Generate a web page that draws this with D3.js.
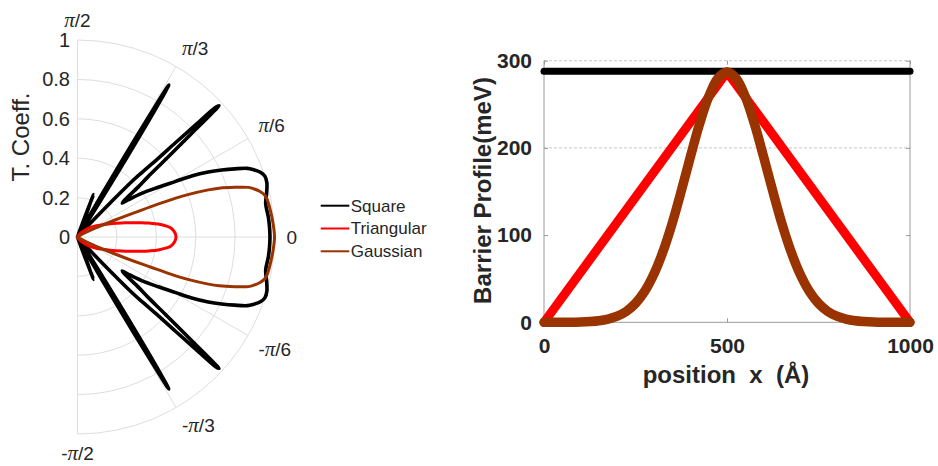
<!DOCTYPE html>
<html>
<head>
<meta charset="utf-8">
<script src="https://cdn.jsdelivr.net/npm/d3@7"></script>
<style>
  html, body { margin: 0; padding: 0; background: #fff; }
  svg { display: block; }
  text { font-family: "Liberation Sans", Arial, sans-serif; }
</style>
</head>
<body>
<svg id="chart" width="938" height="466"></svg>
<script>
// ---- Transmission vs incidence angle (degrees, 0..90; curve is symmetric in angle) ----
const squareTheta = [0, 3, 6, 10, 13, 16, 18, 19.5, 21, 22, 23.4, 24.9, 26.4, 28.1, 29.6, 31.6, 34.2, 36.2, 37.2, 38.2, 39.5, 40.5, 41.2, 41.7, 42.2, 42.6, 42.9, 43.2, 43.5, 43.9, 44.3, 45.0, 45.6, 46.2, 46.8, 47.5, 49, 52, 55, 56.5, 57.5, 58.2, 58.7, 59.0, 59.3, 59.7, 60.2, 60.8, 62, 65, 67.5, 68.5, 69.3, 69.8, 70.5, 72, 80, 90];
const squareT     = [0.977, 0.976, 0.974, 0.970, 0.985, 1.0, 1.0, 0.985, 0.955, 0.93, 0.871, 0.807, 0.741, 0.657, 0.569, 0.482, 0.394, 0.32, 0.285, 0.31, 0.40, 0.47, 0.57, 0.66, 0.78, 0.92, 0.98, 0.96, 0.83, 0.69, 0.57, 0.47, 0.40, 0.25, 0.12, 0.04, 0.01, 0, 0.01, 0.05, 0.2, 0.5, 0.8, 0.9, 0.75, 0.5, 0.25, 0.1, 0.02, 0.01, 0.03, 0.1, 0.23, 0.12, 0.03, 0, 0, 0];

const triTheta = [0, 2.5, 5.3, 7, 9.1, 11, 12.6, 14.5, 16.8, 19.5, 22.9, 27, 31, 36, 42, 50, 60, 70, 90];
const triT     = [0.50, 0.495, 0.478, 0.455, 0.415, 0.37, 0.334, 0.29, 0.252, 0.21, 0.17, 0.135, 0.11, 0.085, 0.055, 0.025, 0.008, 0, 0];

const gaussTheta = [0, 4, 8, 11, 12.5, 14, 15.2, 16.2, 17.5, 19, 19.8, 21, 21.6, 22.8, 24.4, 26.4, 28.5, 31, 35, 40, 90];
const gaussT     = [1.0, 0.995, 0.988, 0.982, 0.975, 0.955, 0.93, 0.903, 0.838, 0.76, 0.706, 0.6, 0.532, 0.353, 0.209, 0.10, 0.045, 0.015, 0.003, 0, 0];

const seriesNames  = ["Square", "Triangular", "Gaussian"];
const seriesColors = ["#000000", "#ff0000", "#993300"];

const rTicks = [0, 0.2, 0.4, 0.6, 0.8, 1];
const rTickLabels = ["0", "0.2", "0.4", "0.6", "0.8", "1"];
const thetaTicks = [90, 60, 30, 0, -30, -60, -90];
const thetaTickLabels = ["π/2", "π/3", "π/6", "0", "-π/6", "-π/3", "-π/2"];

// ---- Barrier profiles: position (Å) vs height (meV) ----
const squareX = [0, 1000];
const squareV = [288, 288];
const triX = [0, 500, 1000];
const triV = [0, 287, 0];
const gaussX = [0, 25, 50, 75, 100, 125, 150, 175, 200, 225, 250, 275, 300, 325, 350, 375, 400, 425, 450, 475, 500,
                525, 550, 575, 600, 625, 650, 675, 700, 725, 750, 775, 800, 825, 850, 875, 900, 925, 950, 975, 1000];
const gaussV = [0, 0, 0, 0.1, 0.4, 0.9, 1.8, 3.7, 7.0, 12.6, 21.7, 35.4, 55.0, 81.0, 113.2, 150.5, 189.9, 227.5, 258.8, 279.7, 287,
                279.7, 258.8, 227.5, 189.9, 150.5, 113.2, 81.0, 55.0, 35.4, 21.7, 12.6, 7.0, 3.7, 1.8, 0.9, 0.4, 0.1, 0, 0, 0];
const xTicks = [0, 500, 1000];
const yTicks = [0, 100, 200, 300];
const yGrid = [200, 300];

const svg = d3.select("#chart");
const textColor = "#262626";

// ================= Polar plot =================
const cx = 77.5, cy = 237, R = 197;
const r = d3.scaleLinear().domain([0, 1]).range([0, R]);
const toRad = d => d * Math.PI / 180;
const polar = svg.append("g").attr("transform", `translate(${cx},${cy})`);

// rings
rTicks.filter(v => v > 0).forEach(v => {
  const p = d3.path();
  p.arc(0, 0, r(v), -Math.PI / 2, Math.PI / 2);
  polar.append("path").attr("d", p.toString())
    .attr("fill", "none").attr("stroke", "#dedede").attr("stroke-width", 1);
});
// spokes
thetaTicks.forEach(t => {
  polar.append("line")
    .attr("x1", 0).attr("y1", 0)
    .attr("x2", r(1) * Math.cos(toRad(t))).attr("y2", -r(1) * Math.sin(toRad(t)))
    .attr("stroke", "#dedede").attr("stroke-width", 1);
});

// radial tick labels
polar.selectAll("text.rtick").data(rTicks).join("text")
  .attr("class", "rtick")
  .attr("x", -7.5).attr("y", d => -r(d)).attr("dy", "0.35em")
  .attr("text-anchor", "end")
  .attr("font-size", 20).attr("fill", textColor)
  .text((d, i) => rTickLabels[i]);

// angle labels (π drawn in a serif face)
thetaTicks.forEach((t, i) => {
  const d = R + 12;
  const ax = d * Math.cos(toRad(t)), ay = -d * Math.sin(toRad(t));
  const txt = polar.append("text")
    .attr("x", ax).attr("y", ay)
    .attr("font-size", 19).attr("fill", textColor)
    .attr("text-anchor", Math.abs(t) === 90 ? "middle" : "start");
  if (t === 0) txt.attr("dy", "0.35em");
  else if (t < 0) txt.attr("dy", "0.75em");
  else txt.attr("dy", "-0.05em");
  thetaTickLabels[i].split(/(π)/).filter(s => s.length).forEach(s => {
    const ts = txt.append("tspan").text(s);
    if (s === "π") ts.attr("font-family", "'Liberation Serif', 'DejaVu Serif', serif")
      .attr("font-style", "italic").attr("font-size", 21);
  });
});

// radial axis title
svg.append("text")
  .attr("transform", "translate(28.5,137) rotate(-90)")
  .attr("text-anchor", "middle")
  .attr("font-size", 24).attr("fill", textColor)
  .text("T. Coeff.");

// curves, mirrored to negative angles
function mirrored(thetas, vals) {
  const pos = thetas.map((t, i) => ({ t, v: vals[i] }));
  const neg = pos.filter(p => p.t > 0).map(p => ({ t: -p.t, v: p.v })).reverse();
  return neg.concat(pos);
}
const radial = d3.lineRadial()
  .angle(d => toRad(90 - d.t))
  .radius(d => r(d.v))
  .curve(d3.curveCatmullRom.alpha(0.5));

const polarSeries = [
  { pts: mirrored(squareTheta, squareT), color: seriesColors[0], w: 3.6 },
  { pts: mirrored(triTheta, triT), color: seriesColors[1], w: 3.0 },
  { pts: mirrored(gaussTheta, gaussT), color: seriesColors[2], w: 3.0 }
];
polarSeries.forEach(s => {
  polar.append("path").attr("d", radial(s.pts))
    .attr("fill", "none").attr("stroke", s.color)
    .attr("stroke-width", s.w).attr("stroke-linejoin", "round").attr("stroke-linecap", "round");
});

// legend
const legend = svg.append("g").attr("transform", "translate(320.7,205.7)");
seriesNames.forEach((name, i) => {
  const g = legend.append("g").attr("transform", `translate(0,${i * 22.8})`);
  g.append("line").attr("x1", 0).attr("x2", 28.6).attr("y1", 0).attr("y2", 0)
    .attr("stroke", seriesColors[i]).attr("stroke-width", 2);
  g.append("text").attr("x", 30).attr("dy", "0.35em")
    .attr("font-size", 17).attr("fill", textColor).text(name);
});

// ================= Barrier profile plot =================
const x = d3.scaleLinear().domain([0, 1000]).range([544, 910]);
const y = d3.scaleLinear().domain([0, 300]).range([322.3, 60.7]);
const right = svg.append("g");
const boxColor = "#9a9a9a";

// grid
yGrid.forEach(v => {
  right.append("line")
    .attr("x1", x(0)).attr("x2", x(1000)).attr("y1", y(v)).attr("y2", y(v))
    .attr("stroke", "#c8c8c8").attr("stroke-width", 1).attr("stroke-dasharray", "3,2");
});

// box
right.append("line").attr("x1", x(0)).attr("x2", x(0)).attr("y1", y(0)).attr("y2", y(300))
  .attr("stroke", boxColor);
right.append("line").attr("x1", x(1000)).attr("x2", x(1000)).attr("y1", y(0)).attr("y2", y(300))
  .attr("stroke", boxColor);
right.append("line").attr("x1", x(0)).attr("x2", x(1000)).attr("y1", y(0)).attr("y2", y(0))
  .attr("stroke", boxColor);

// axes with inward ticks
const yAxisL = d3.axisLeft(y).tickValues(yTicks).tickSize(-4).tickPadding(12).tickFormat(d3.format("d"));
const yAxisR = d3.axisRight(y).tickValues(yTicks).tickSize(-4).tickFormat("");
const xAxisB = d3.axisBottom(x).tickValues(xTicks).tickSize(-4).tickPadding(16).tickFormat(d3.format("d"));
const xAxisT = d3.axisTop(x).tickValues(xTicks).tickSize(-4).tickFormat("");

function styleAxis(g) {
  g.select(".domain").remove();
  g.selectAll(".tick line").attr("stroke", boxColor);
  g.selectAll(".tick text")
    .attr("font-family", "'Liberation Sans', Arial, sans-serif")
    .attr("font-size", 21).attr("font-weight", "bold").attr("fill", textColor);
}
right.append("g").attr("transform", `translate(${x(0)},0)`).call(yAxisL).call(styleAxis);
right.append("g").attr("transform", `translate(${x(1000)},0)`).call(yAxisR).call(styleAxis);
right.append("g").attr("transform", `translate(0,${y(0)})`).call(xAxisB).call(styleAxis);
right.append("g").attr("transform", `translate(0,${y(300)})`).call(xAxisT).call(styleAxis);

// profiles
const line = d3.line().x(d => x(d[0])).y(d => y(d[1]));
const smooth = d3.line().x(d => x(d[0])).y(d => y(d[1])).curve(d3.curveCatmullRom.alpha(0.5));
const profiles = [
  { d: line(squareX.map((v, i) => [v, squareV[i]])), color: seriesColors[0], w: 7 },
  { d: line(triX.map((v, i) => [v, triV[i]])), color: seriesColors[1], w: 9 },
  { d: smooth(gaussX.map((v, i) => [v, gaussV[i]])), color: seriesColors[2], w: 9.5 }
];
profiles.forEach(p => {
  right.append("path").attr("d", p.d)
    .attr("fill", "none").attr("stroke", p.color).attr("stroke-width", p.w)
    .attr("stroke-linecap", "round").attr("stroke-linejoin", "round");
});

// axis titles
svg.append("text")
  .attr("transform", "translate(491,190.5) rotate(-90)")
  .attr("text-anchor", "middle")
  .attr("font-size", 24).attr("font-weight", "bold").attr("fill", textColor)
  .text("Barrier Profile(meV)");
svg.append("text")
  .attr("x", 726).attr("y", 383)
  .attr("text-anchor", "middle")
  .attr("font-size", 24).attr("font-weight", "bold").attr("fill", textColor)
  .style("white-space", "pre")
  .text("position  x  (Å)");
</script>
</body>
</html>
